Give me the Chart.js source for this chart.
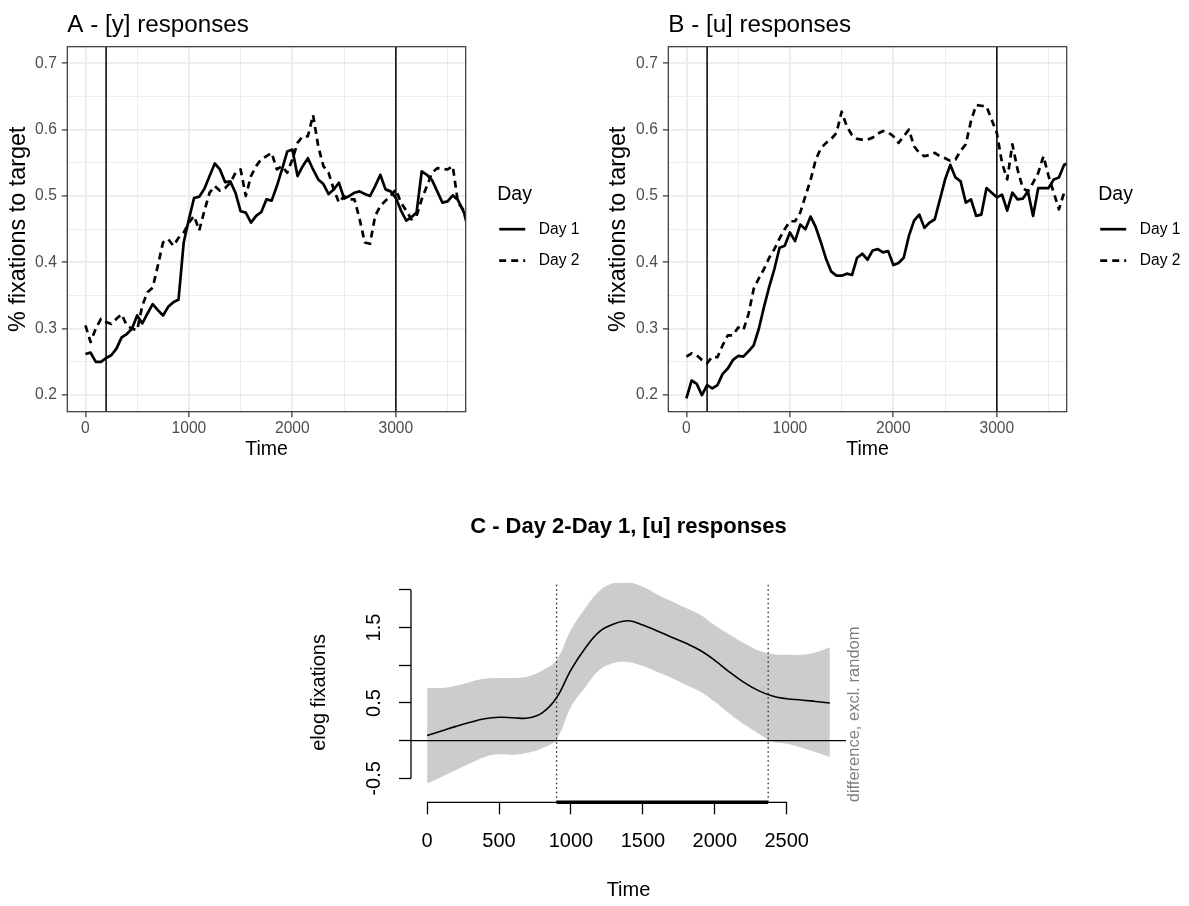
<!DOCTYPE html>
<html><head><meta charset="utf-8">
<script src="https://cdn.jsdelivr.net/npm/chart.js@4.4.1/dist/chart.umd.min.js"></script>
<style>
html,body{margin:0;padding:0;background:#fff;overflow:hidden;width:1189px;height:906px}
canvas{position:absolute}
</style></head><body>
<canvas id="cA" width="600" height="470" style="left:0px;top:0px"></canvas>
<canvas id="cB" width="589" height="470" style="left:600px;top:0px"></canvas>
<canvas id="cC" width="677" height="410" style="left:290px;top:500px"></canvas>
<script>
// ---------------- data: panels A and B ----------------
const timeAB = [0,50,100,150,200,250,300,350,400,450,500,550,600,650,700,750,800,850,900,950,
  1000,1050,1100,1150,1200,1250,1300,1350,1400,1450,1500,1550,1600,1650,1700,1750,1800,1850,1900,1950,
  2000,2050,2100,2150,2200,2250,2300,2350,2400,2450,2500,2550,2600,2650,2700,2750,2800,2850,2900,2950,
  3000,3050,3100,3150,3200,3250,3300,3350,3400,3450,3500,3550,3600,3650,3700];
const seriesLabels = ['Day 1', 'Day 2'];
const legendTitle = 'Day';
// A - [y] responses
const yDay1 = [0.262,0.264,0.250,0.250,0.256,0.260,0.270,0.287,0.292,0.300,0.320,0.308,0.323,0.337,0.328,0.320,0.333,0.340,0.344,0.430,
  0.465,0.497,0.499,0.511,0.530,0.549,0.540,0.521,0.522,0.505,0.477,0.475,0.460,0.470,0.476,0.495,0.493,0.515,0.540,0.567,
  0.570,0.530,0.545,0.557,0.540,0.525,0.518,0.503,0.510,0.520,0.496,0.500,0.505,0.507,0.503,0.500,0.515,0.532,0.510,0.507,
  0.497,0.478,0.463,0.468,0.475,0.537,0.532,0.524,0.507,0.490,0.492,0.501,0.494,0.478,0.460];
const yDay2 = [0.305,0.280,0.300,0.315,0.310,0.307,0.315,0.322,0.305,0.300,0.298,0.335,0.355,0.362,0.395,0.430,0.435,0.425,0.437,0.445,
  0.460,0.470,0.448,0.478,0.505,0.515,0.508,0.512,0.520,0.535,0.540,0.500,0.530,0.545,0.556,0.560,0.565,0.540,0.545,0.535,
  0.555,0.580,0.590,0.590,0.622,0.575,0.545,0.535,0.510,0.490,0.500,0.495,0.495,0.465,0.430,0.428,0.470,0.485,0.493,0.500,
  0.510,0.490,0.478,0.465,0.470,0.495,0.515,0.535,0.542,0.541,0.540,0.545,0.490,0.480,0.450];
// B - [u] responses
const uDay1 = [0.195,0.222,0.217,0.200,0.215,0.210,0.215,0.232,0.240,0.253,0.259,0.258,0.266,0.275,0.300,0.333,0.363,0.390,0.422,0.425,
  0.445,0.432,0.457,0.450,0.469,0.453,0.430,0.405,0.386,0.380,0.380,0.383,0.381,0.407,0.413,0.404,0.418,0.420,0.415,0.417,
  0.396,0.399,0.407,0.440,0.463,0.472,0.452,0.460,0.465,0.495,0.525,0.547,0.528,0.522,0.490,0.495,0.470,0.472,0.512,0.505,
  0.498,0.502,0.478,0.505,0.495,0.496,0.507,0.470,0.512,0.512,0.512,0.525,0.528,0.547,0.550];
const uDay2 = [0.258,0.263,0.260,0.253,0.248,0.258,0.257,0.275,0.290,0.290,0.302,0.298,0.322,0.360,0.376,0.390,0.407,0.420,0.436,0.450,
  0.462,0.462,0.475,0.500,0.524,0.555,0.572,0.580,0.586,0.595,0.627,0.605,0.592,0.586,0.585,0.585,0.588,0.594,0.598,0.596,
  0.590,0.580,0.590,0.600,0.575,0.565,0.560,0.562,0.565,0.560,0.557,0.553,0.555,0.568,0.578,0.613,0.637,0.636,0.635,0.615,
  0.595,0.550,0.525,0.578,0.540,0.512,0.507,0.520,0.535,0.560,0.530,0.505,0.480,0.505,0.510];
const onsetLines = [200, 3000];
const xTicksAB = [0,500,1000,1500,2000,2500,3000,3500];
const xTickLabelsAB = ['0','','1000','','2000','','3000',''];
const yTicksAB = [0.2,0.25,0.3,0.35,0.4,0.45,0.5,0.55,0.6,0.65,0.7];
const yTickLabelsAB = ['0.2','','0.3','','0.4','','0.5','','0.6','','0.7'];

// ---------------- data: panel C ----------------
const timeC = [0,100,200,300,400,500,600,700,800,900,1000,1100,1200,1300,1400,1500,1600,1700,1800,1900,2000,2100,2200,2300,2400,2500,2600,2700,2800];
const fitC   = [0.07,0.13,0.19,0.245,0.29,0.31,0.305,0.30,0.37,0.57,0.94,1.23,1.45,1.55,1.59,1.535,1.455,1.373,1.292,1.197,1.066,0.914,0.777,0.667,0.593,0.556,0.54,0.52,0.50];
const upperC = [0.70,0.70,0.73,0.78,0.82,0.83,0.83,0.85,0.93,1.07,1.47,1.76,1.99,2.09,2.10,2.04,1.94,1.85,1.76,1.67,1.53,1.41,1.30,1.20,1.15,1.14,1.14,1.17,1.24];
const lowerC = [-0.565,-0.48,-0.39,-0.30,-0.215,-0.18,-0.185,-0.16,-0.10,0.02,0.45,0.71,0.94,1.03,1.04,0.99,0.91,0.83,0.74,0.65,0.515,0.36,0.22,0.10,-0.01,-0.04,-0.09,-0.15,-0.22];
const sigWindow = [900, 2371];
const xTicksC = [0,500,1000,1500,2000,2500];
const xTickLabelsC = ['0','500','1000','1500','2000','2500'];
const yTicksC = [-0.5,0,0.5,1,1.5,2];
const yTickLabelsC = ['-0.5','','0.5','','1.5',''];
const sideLabelC = 'difference, excl. random';

// ---------------- rendering ----------------
const FONT = "'Liberation Sans', Arial, Helvetica, sans-serif";
Chart.defaults.font.family = FONT;
Chart.defaults.animation = false;

function labelFor(ticks, labels, v) {
  const i = ticks.findIndex(t => Math.abs(t - v) < 1e-9);
  return i < 0 ? '' : labels[i];
}
function pts(xs, ys) { return xs.map((x, i) => ({x: x, y: ys[i]})); }

const AB = {xMin: -175, xMax: 3675, yMin: 0.175, yMax: 0.725};

const ggPanelPlugin = {
  id: 'ggPanel',
  afterDraw(chart) {
    const {ctx, chartArea: a} = chart;
    ctx.save();
    ctx.setLineDash([]);
    ctx.strokeStyle = '#333333';
    ctx.lineWidth = 1.2;
    ctx.strokeRect(a.left, a.top, a.right - a.left, a.bottom - a.top);
    // legend
    ctx.fillStyle = '#000';
    ctx.textAlign = 'left';
    ctx.textBaseline = 'middle';
    ctx.font = '19.5px ' + FONT;
    ctx.fillText(legendTitle, a.right + 31.5, a.top + 147.5);
    ctx.font = '15.6px ' + FONT;
    seriesLabels.forEach((lab, i) => {
      const ds = chart.data.datasets[i];
      const y = a.top + 182.5 + i * 31.5;
      ctx.strokeStyle = ds.borderColor;
      ctx.lineWidth = ds.borderWidth;
      ctx.setLineDash(ds.borderDash || []);
      ctx.beginPath();
      ctx.moveTo(a.right + 33.5, y);
      ctx.lineTo(a.right + 59.5, y);
      ctx.stroke();
      ctx.fillText(lab, a.right + 73, y);
    });
    ctx.restore();
  }
};

function makePanel(id, title, d1, d2, yWidth, padRight) {
  const datasets = [
    {label: seriesLabels[0], data: pts(timeAB, d1), borderColor: '#000', borderWidth: 2.7, pointRadius: 0, tension: 0, fill: false, clip: 0, borderJoinStyle: 'round'},
    {label: seriesLabels[1], data: pts(timeAB, d2), borderColor: '#000', borderWidth: 2.7, borderDash: [7, 5], pointRadius: 0, tension: 0, fill: false, clip: 0, borderJoinStyle: 'round'}
  ];
  onsetLines.forEach(t => datasets.push({label: 'onset', data: [{x: t, y: AB.yMin}, {x: t, y: AB.yMax}], borderColor: '#000', borderWidth: 1.5, pointRadius: 0, clip: 0}));
  const isMajX = c => c.tick && labelFor(xTicksAB, xTickLabelsAB, c.tick.value) !== '';
  const isMajY = c => c.tick && labelFor(yTicksAB, yTickLabelsAB, c.tick.value) !== '';
  return new Chart(document.getElementById(id), {
    type: 'line',
    data: {datasets},
    plugins: [ggPanelPlugin],
    options: {
      responsive: false, devicePixelRatio: 1, events: [],
      layout: {autoPadding: false, padding: {left: 0, top: 0, right: padRight, bottom: 6.3}},
      plugins: {legend: {display: false}, tooltip: {enabled: false}},
      scales: {
        x: {
          type: 'linear', position: 'bottom', min: AB.xMin, max: AB.xMax,
          afterBuildTicks: s => { s.ticks = xTicksAB.map(v => ({value: v})); },
          afterFit: s => { s.height = 52; },
          border: {display: false},
          grid: {color: '#ebebeb', lineWidth: c => isMajX(c) ? 1.8 : 0.9, drawTicks: true, tickLength: 5.5, tickWidth: 1.2,
                 tickColor: c => isMajX(c) ? '#333333' : 'rgba(0,0,0,0)'},
          ticks: {autoSkip: false, maxRotation: 0, minRotation: 0, padding: 2, color: '#4d4d4d', font: {size: 15.6},
                  callback: v => labelFor(xTicksAB, xTickLabelsAB, v)},
          title: {display: true, text: 'Time', color: '#000', font: {size: 19.5}, padding: {top: 0, bottom: 2}}
        },
        y: {
          type: 'linear', position: 'left', min: AB.yMin, max: AB.yMax,
          afterBuildTicks: s => { s.ticks = yTicksAB.map(v => ({value: v})); },
          afterFit: s => { s.width = yWidth; },
          border: {display: false},
          grid: {color: '#ebebeb', lineWidth: c => isMajY(c) ? 1.8 : 0.9, drawTicks: true, tickLength: 5.5, tickWidth: 1.2,
                 tickColor: c => isMajY(c) ? '#333333' : 'rgba(0,0,0,0)'},
          ticks: {autoSkip: false, padding: 5, color: '#4d4d4d', font: {size: 15.6},
                  callback: v => labelFor(yTicksAB, yTickLabelsAB, v)},
          title: {display: true, text: '% fixations to target', color: '#000', font: {size: 23.4}, padding: {top: 5, bottom: 0}}
        },
        xTitle: {
          type: 'linear', position: 'top', display: true,
          afterFit: s => { s.height = 46.7; },
          grid: {display: false}, border: {display: false}, ticks: {display: false},
          title: {display: true, text: title, align: 'start', color: '#000', font: {size: 24.2}, padding: {top: 10.5, bottom: 0}}
        }
      }
    }
  });
}

makePanel('cA', 'A - [y] responses', yDay1, yDay2, 67.3, 134.3);
makePanel('cB', 'B - [u] responses', uDay1, uDay2, 68.3, 122.3);

// ---------- panel C ----------
const CC = {xMin: -112, xMax: 2912, yMin: -0.817, yMax: 2.098};
const sideTextPlugin = {
  id: 'sideText',
  afterDraw(chart) {
    const {ctx, chartArea: a} = chart;
    ctx.save();
    ctx.translate(a.right + 8, a.bottom);
    ctx.rotate(-Math.PI / 2);
    ctx.font = '16.5px ' + FONT;
    ctx.fillStyle = '#7f7f7f';
    ctx.textAlign = 'left';
    ctx.textBaseline = 'middle';
    ctx.fillText(sideLabelC, 0, 0);
    ctx.restore();
  }
};
const seg = (x0, y0, x1, y1) => [{x: x0, y: y0}, {x: x1, y: y1}];
const cDatasets = [
  {label: 'fit', data: pts(timeC, fitC), borderColor: '#000', borderWidth: 1.6, pointRadius: 0, tension: 0.4, fill: false, clip: 0},
  {label: 'upper', data: pts(timeC, upperC), borderWidth: 0, borderColor: 'rgba(0,0,0,0)', backgroundColor: '#cccccc', pointRadius: 0, tension: 0.4, fill: '+1', clip: 0},
  {label: 'lower', data: pts(timeC, lowerC), borderWidth: 0, borderColor: 'rgba(0,0,0,0)', pointRadius: 0, tension: 0.4, fill: false, clip: 0},
  {label: 'zero', data: seg(CC.xMin, 0, CC.xMax, 0), borderColor: '#000', borderWidth: 1.3, pointRadius: 0, clip: 0},
  {label: 'sigStart', data: seg(sigWindow[0], CC.yMin, sigWindow[0], CC.yMax), borderColor: '#222', borderWidth: 1.3, borderDash: [1.5, 3], pointRadius: 0, clip: 0},
  {label: 'sigEnd', data: seg(sigWindow[1], CC.yMin, sigWindow[1], CC.yMax), borderColor: '#222', borderWidth: 1.3, borderDash: [1.5, 3], pointRadius: 0, clip: 0},
  {label: 'xaxis', data: seg(xTicksC[0], CC.yMin, xTicksC[xTicksC.length - 1], CC.yMin), borderColor: '#000', borderWidth: 1.3, pointRadius: 0, clip: false},
  {label: 'yaxis', data: seg(CC.xMin, yTicksC[0], CC.xMin, yTicksC[yTicksC.length - 1]), borderColor: '#000', borderWidth: 1.3, pointRadius: 0, clip: false},
  {label: 'sigBar', data: seg(sigWindow[0], CC.yMin, sigWindow[1], CC.yMin), borderColor: '#000', borderWidth: 3.6, pointRadius: 0, clip: false}
];
// draw order: band below everything
cDatasets.forEach(d => { d.order = (d.label === 'upper' || d.label === 'lower') ? 10 : 0; });

new Chart(document.getElementById('cC'), {
  type: 'line',
  data: {datasets: cDatasets},
  plugins: [sideTextPlugin],
  options: {
    responsive: false, devicePixelRatio: 1, events: [],
    layout: {autoPadding: false, padding: {left: 0, top: 0, right: 121, bottom: 2.7}},
    plugins: {legend: {display: false}, tooltip: {enabled: false}},
    scales: {
      x: {
        type: 'linear', position: 'bottom', min: CC.xMin, max: CC.xMax,
        afterBuildTicks: s => { s.ticks = xTicksC.map(v => ({value: v})); },
        afterFit: s => { s.height = 105; },
        border: {display: false},
        grid: {display: true, drawOnChartArea: false, drawTicks: true, tickLength: 12, tickWidth: 1.3, tickColor: '#000'},
        ticks: {autoSkip: false, maxRotation: 0, minRotation: 0, padding: 15.4, color: '#000', font: {size: 20},
                callback: v => labelFor(xTicksC, xTickLabelsC, v)},
        title: {display: true, text: 'Time', color: '#000', font: {size: 20}, padding: {top: 0, bottom: 5}}
      },
      y: {
        type: 'linear', position: 'left', min: CC.yMin, max: CC.yMax,
        afterBuildTicks: s => { s.ticks = yTicksC.map(v => ({value: v})); },
        afterFit: s => { s.width = 121; },
        border: {display: false},
        grid: {display: true, drawOnChartArea: false, drawTicks: true, tickLength: 12, tickWidth: 1.3, tickColor: '#000'},
        ticks: {autoSkip: false, minRotation: 90, maxRotation: 90, crossAlign: 'center', padding: 6.8, color: '#000', font: {size: 20},
                callback: v => labelFor(yTicksC, yTickLabelsC, v)},
        title: {display: true, text: 'elog fixations', color: '#000', font: {size: 20}, padding: {top: 17, bottom: 0}}
      },
      xTitle: {
        type: 'linear', position: 'top', display: true,
        afterFit: s => { s.height = 82.5; },
        grid: {display: false}, border: {display: false}, ticks: {display: false},
        title: {display: true, text: 'C - Day 2-Day 1, [u] responses', align: 'center', color: '#000', font: {size: 22, weight: 'bold'}, padding: {top: 13.8, bottom: 0}}
      }
    }
  }
});
</script>
</body></html>
